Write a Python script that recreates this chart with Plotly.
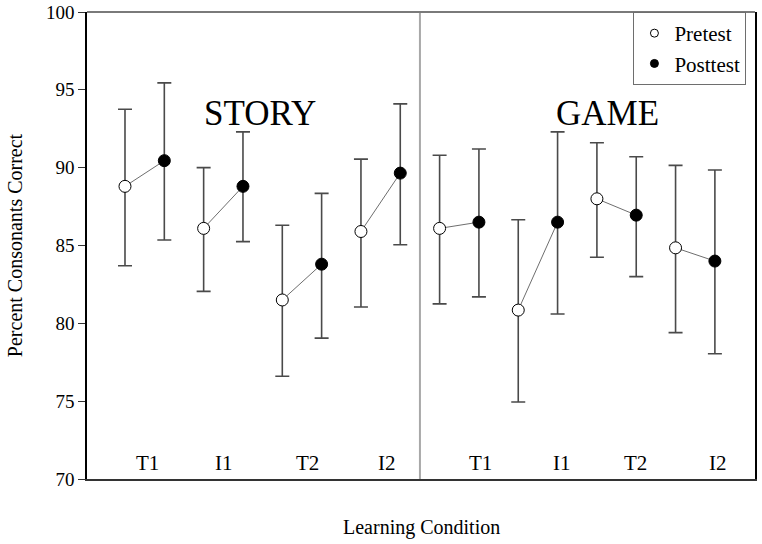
import plotly.graph_objects as go

# values (percent consonants correct, mean and error bar ends)
conditions = ['STORY', 'GAME']
groups = ['T1', 'I1', 'T2', 'I2']

pre_mean = [88.8, 86.1, 81.5, 85.9, 86.1, 80.85, 88.0, 84.85]
pre_low = [83.7, 82.05, 76.6, 81.05, 81.25, 74.95, 84.25, 79.4]
pre_high = [93.75, 90.0, 86.3, 90.55, 90.8, 86.65, 91.6, 90.15]

post_mean = [90.45, 88.8, 83.8, 89.65, 86.5, 86.5, 86.95, 84.0]
post_low = [85.35, 85.25, 79.05, 85.05, 81.7, 80.6, 83.0, 78.05]
post_high = [95.45, 92.3, 88.35, 94.1, 91.2, 92.3, 90.7, 89.85]

FONT = 'Liberation Serif, Times New Roman, serif'

n = len(pre_mean)
x_pre = [2 * k for k in range(n)]
x_post = [2 * k + 1 for k in range(n)]

fig = go.Figure()

# thin connector between pretest and posttest of each group
lx, ly = [], []
for k in range(n):
    lx += [x_pre[k], x_post[k], None]
    ly += [pre_mean[k], post_mean[k], None]
fig.add_trace(go.Scatter(x=lx, y=ly, mode='lines', line=dict(color='#6e6e6e', width=1),
                         showlegend=False, hoverinfo='skip'))

err_style = dict(type='data', symmetric=False, color='#4a4a4a', thickness=1.6, width=7)

fig.add_trace(go.Scatter(
    x=x_pre, y=pre_mean, mode='markers', name='Pretest', showlegend=False,
    marker=dict(symbol='circle', size=12, color='white', line=dict(color='black', width=1)),
    error_y=dict(array=[h - m for h, m in zip(pre_high, pre_mean)],
                 arrayminus=[m - l for m, l in zip(pre_mean, pre_low)], **err_style),
))
fig.add_trace(go.Scatter(
    x=x_post, y=post_mean, mode='markers', name='Posttest', showlegend=False,
    marker=dict(symbol='circle', size=12, color='black', line=dict(color='black', width=1)),
    error_y=dict(array=[h - m for h, m in zip(post_high, post_mean)],
                 arrayminus=[m - l for m, l in zip(post_mean, post_low)], **err_style),
))

# legend-only entries (smaller symbols like the original)
fig.add_trace(go.Scatter(x=[None], y=[None], mode='markers', name='Pretest',
                         marker=dict(size=8, color='white', line=dict(color='black', width=1))))
fig.add_trace(go.Scatter(x=[None], y=[None], mode='markers', name='Posttest',
                         marker=dict(size=8, color='black', line=dict(color='black', width=1))))

# group labels near the bottom, condition names up top
label_shift = [0.56, 0.52, 0.65, 0.66, 1.03, 1.11, 0.99, 1.08]
annotations = []
for k in range(n):
    annotations.append(dict(x=x_pre[k] + label_shift[k], y=71.0, text=groups[k % 4],
                            showarrow=False, font=dict(size=21, color='black')))
annotations.append(dict(x=3.43, y=93.5, text=conditions[0], showarrow=False,
                        font=dict(size=35, color='black')))
annotations.append(dict(x=12.28, y=93.5, text=conditions[1], showarrow=False,
                        font=dict(size=35, color='black')))
annotations.append(dict(x=0.5, y=-0.075, xref='paper', yref='paper', text='Learning Condition',
                        showarrow=False, yanchor='top', font=dict(size=20, color='black')))

fig.update_layout(
    width=762, height=544,
    margin=dict(l=87, r=7, t=12, b=65),
    paper_bgcolor='white', plot_bgcolor='white',
    font=dict(family=FONT, color='black'),
    annotations=annotations,
    shapes=[
        dict(type='line', xref='x', yref='y', x0=7.5, x1=7.5, y0=70, y1=100,
             line=dict(color='#a8a8a8', width=2)),
        dict(type='line', xref='paper', yref='paper', x0=0, x1=1, y0=1, y1=1,
             line=dict(color='#7a7a7a', width=2)),
    ],
    legend=dict(x=0.818, y=1, xanchor='left', yanchor='top', bgcolor='white',
                bordercolor='#6e6e6e', borderwidth=1, font=dict(size=21),
                itemsizing='trace', tracegroupgap=0),
    xaxis=dict(range=[-0.966, 16.02], showgrid=False, zeroline=False, showticklabels=False,
               ticks='', showline=True, linecolor='#333333', linewidth=2, mirror=False,
               automargin=False),
    yaxis=dict(range=[70, 100], tickvals=[70, 75, 80, 85, 90, 95, 100], showgrid=False,
               zeroline=False, ticks='outside', ticklen=7, tickcolor='#333333',
               tickfont=dict(size=19), showline=True, linecolor='black', linewidth=1.5,
               mirror=True, automargin=False,
               title=dict(text='Percent Consonants Correct', font=dict(size=20), standoff=18)),
)

fig.write_html('out.html', config={'displayModeBar': False},
               post_script="document.body.style.margin='0';")
